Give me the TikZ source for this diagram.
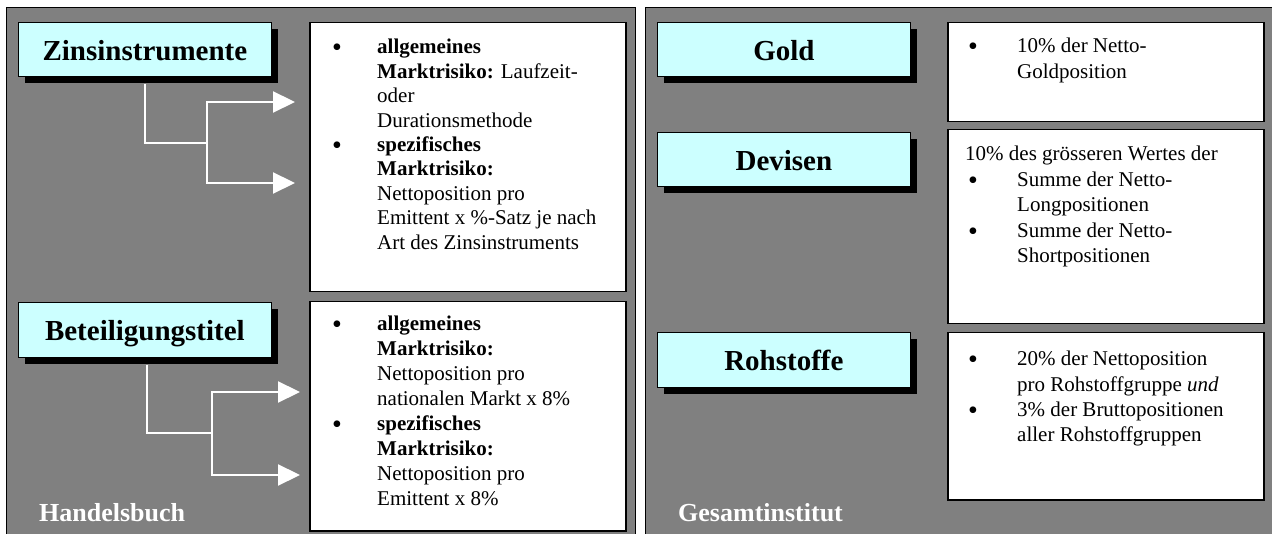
\documentclass[tikz,border=0pt]{standalone}
\usepackage{fontspec}
\setmainfont{Liberation Serif}
\usetikzlibrary{arrows.meta,shadows}
\definecolor{panelgray}{HTML}{808080}
\definecolor{titlecyan}{HTML}{CCFFFF}
\newcommand\bigbul{\raisebox{-3pt}{\fontsize{28}{28}\selectfont\textbullet}}
\begin{document}
\begin{tikzpicture}[x=1pt,y=-1pt,
 panel/.style={draw=black,line width=1pt,fill=panelgray},
 titlebox/.style={draw=black,line width=0.8pt,fill=titlecyan,anchor=north west,
   minimum width=253pt,minimum height=54pt,inner sep=0pt,text height=22pt,text depth=0pt,
   font=\fontsize{29}{34}\selectfont\bfseries,
   drop shadow={shadow xshift=7pt,shadow yshift=-7pt,opacity=1,fill=black}},
 infobox/.style={draw=black,line width=1.5pt,fill=white,anchor=north west,inner sep=0pt,minimum width=316pt},
 infotext/.style={anchor=base west,inner sep=0pt,align=left},
 conn/.style={draw=white,line width=2.2pt,line join=miter},
 arr/.style={conn,-{Triangle[length=22pt,width=21pt,fill=white]}},
 paneltitle/.style={anchor=base west,inner sep=0pt,text=white,font=\fontsize{26}{30}\selectfont\bfseries}
]
\useasboundingbox (0,0) rectangle (1272,534);
% panels
\node[panel,anchor=north west,inner sep=0pt,minimum width=629pt,minimum height=540pt] (lpanel) at (6,7.5) {};
\node[panel,anchor=north west,inner sep=0pt,minimum width=640pt,minimum height=540pt] (rpanel) at (645,7.5) {};

% ---- left panel ----
\node[infobox,minimum height=269pt] (zbox) at (309,22) {};
\node[infobox,minimum height=229pt] (bbox) at (309,301) {};

\coordinate (zj) at (207,143);
\coordinate (za1) at (295,102);
\coordinate (za2) at (295,183);
\coordinate (bj) at (212,433);
\coordinate (ba1) at (300,392);
\coordinate (ba2) at (300,475);

\node[titlebox] (zins) at (18,22) {Zinsinstrumente};
\node[titlebox,minimum height=55pt] (bet) at (18,302) {Beteiligungstitel};

\draw[conn] ([yshift=-7pt]zins.south) |- (zj);
\draw[arr] (zj) |- (za1);
\draw[arr] (zj) |- (za2);
\draw[conn] ([xshift=2pt,yshift=-7pt]bet.south) |- (bj);
\draw[arr] (bj) |- (ba1);
\draw[arr] (bj) |- (ba2);

\node[infotext,font=\fontsize{21}{24.4}\selectfont] (ztext) at (332,54) {%
\begin{tabular}[t]{@{}p{45pt}@{}l@{}}
\bigbul & \textbf{allgemeines}\\
 & \textbf{Marktrisiko:} Laufzeit-\\
 & oder\\
 & Durationsmethode\\
\bigbul & \textbf{spezifisches}\\
 & \textbf{Marktrisiko:}\\
 & Nettoposition pro\\
 & Emittent x \%-Satz je nach\\
 & Art des Zinsinstruments
\end{tabular}};

\node[infotext,font=\fontsize{21}{24.9}\selectfont] (btext) at (332,331) {%
\begin{tabular}[t]{@{}p{45pt}@{}l@{}}
\bigbul & \textbf{allgemeines}\\
 & \textbf{Marktrisiko:}\\
 & Nettoposition pro\\
 & nationalen Markt x 8\%\\
\bigbul & \textbf{spezifisches}\\
 & \textbf{Marktrisiko:}\\
 & Nettoposition pro\\
 & Emittent x 8\%
\end{tabular}};

\node[paneltitle] (hb) at (39,521) {Handelsbuch};

% ---- right panel ----
\node[infobox,minimum height=99pt] (gbox) at (947,22) {};
\node[infobox,minimum height=194pt] (dbox) at (947,129) {};
\node[infobox,minimum height=167pt] (rbox) at (947,332) {};

\node[titlebox] (gold) at (657,22) {Gold};
\node[titlebox] (dev) at (657,132) {Devisen};
\node[titlebox,minimum height=55pt] (roh) at (657,332) {Rohstoffe};

\node[infotext,font=\fontsize{21}{25.3}\selectfont] (gtext) at (968,53) {%
\begin{tabular}[t]{@{}p{49pt}@{}l@{}}
\bigbul & 10\% der Netto-\\
 & Goldposition
\end{tabular}};

\node[infotext,font=\fontsize{21}{25.5}\selectfont] (dtext) at (968,161) {%
\begin{tabular}[t]{@{}p{49pt}@{}l@{}}
\multicolumn{2}{@{}l@{}}{\hspace{-3pt}10\% des grösseren Wertes der}\\
\bigbul & Summe der Netto-\\
 & Longpositionen\\
\bigbul & Summe der Netto-\\
 & Shortpositionen
\end{tabular}};

\node[infotext,font=\fontsize{21}{25.3}\selectfont] (rtext) at (968,366) {%
\begin{tabular}[t]{@{}p{49pt}@{}l@{}}
\bigbul & 20\% der Nettoposition\\
 & pro Rohstoffgruppe \textit{und}\\
\bigbul & 3\% der Bruttopositionen\\
 & aller Rohstoffgruppen
\end{tabular}};

\node[paneltitle] (gi) at (678,521) {Gesamtinstitut};
\end{tikzpicture}
\end{document}
